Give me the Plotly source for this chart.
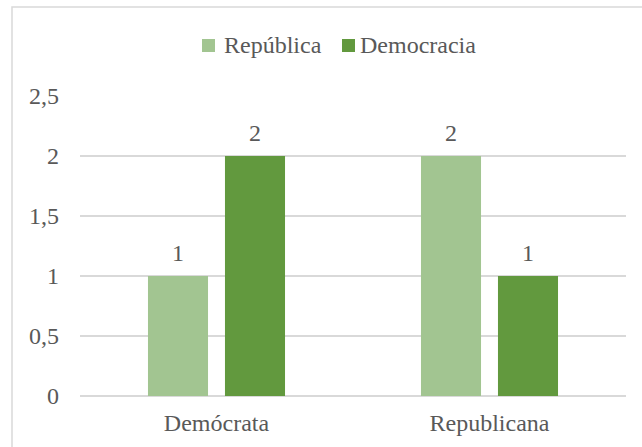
import plotly.graph_objects as go

categories = ["Demócrata", "Republicana"]
series_names = ["República", "Democracia"]
republica = [1, 2]
democracia = [2, 1]
y_ticks = [0, 0.5, 1, 1.5, 2, 2.5]

FONT = '"Liberation Serif", "Times New Roman", serif'
TEXT = "#595959"
GRID = "#D9D9D9"
COLORS = ["#A2C591", "#62993E"]
FS = 24

W, H = 642, 447
L, R, T, B = 80, 16, 96, 51
pw, ph = W - L - R, H - T - B


def px_x(x):
    return (x - L) / pw


def px_y(y):
    return (H - B - y) / ph


fig = go.Figure()
for name, vals, color in zip(series_names, [republica, democracia], COLORS):
    fig.add_trace(go.Bar(
        name=name, x=categories, y=vals,
        marker=dict(color=color, line=dict(width=0)),
        showlegend=False,
    ))

# value labels above each bar (group slot half-width ~38.5 px)
annotations = []
for k, vals in enumerate([republica, democracia]):
    shift = -38.5 if k == 0 else 38.5
    for cat, v in zip(categories, vals):
        annotations.append(dict(
            x=cat, y=v, xref="x", yref="y", text=str(v), showarrow=False,
            xshift=shift, yshift=23, yanchor="middle",
            font=dict(family=FONT, size=FS, color=TEXT),
        ))

# legend: colour square plus series name
shapes = []
legend_items = [(202, 222), (342, 358)]
for (sq_x, tx_x), name, color in zip(legend_items, series_names, COLORS):
    shapes.append(dict(
        type="rect", xref="paper", yref="paper",
        x0=px_x(sq_x), x1=px_x(sq_x + 13), y0=px_y(52), y1=px_y(39),
        line=dict(width=0), fillcolor=color,
    ))
    annotations.append(dict(
        x=px_x(tx_x), y=px_y(45), xref="paper", yref="paper",
        text=name, showarrow=False, xanchor="left", yanchor="middle",
        font=dict(family=FONT, size=FS, color=TEXT),
    ))

# chart area border
shapes.append(dict(
    type="rect", xref="paper", yref="paper",
    x0=px_x(12), x1=px_x(660), y0=px_y(470), y1=px_y(7),
    line=dict(color=GRID, width=1.5), fillcolor="rgba(0,0,0,0)",
    layer="below",
))

fig.update_layout(
    width=W, height=H,
    margin=dict(l=L, r=R, t=T, b=B),
    paper_bgcolor="white", plot_bgcolor="white",
    separators=",.",
    font=dict(family=FONT, size=FS, color=TEXT),
    barmode="group", bargap=0.436, bargroupgap=0.22,
    showlegend=False,
    xaxis=dict(
        showgrid=False, showline=False, zeroline=False,
        ticks="", ticklabelstandoff=10,
        tickfont=dict(family=FONT, size=FS, color=TEXT),
    ),
    yaxis=dict(
        range=[0, 2.5], tickvals=y_ticks,
        showgrid=True, gridcolor=GRID, gridwidth=1.5,
        zeroline=True, zerolinecolor=GRID, zerolinewidth=1.5,
        showline=False, ticks="", ticklabelstandoff=20,
        tickfont=dict(family=FONT, size=FS, color=TEXT),
    ),
    shapes=shapes,
    annotations=annotations,
)

fig.write_html("out.html")
